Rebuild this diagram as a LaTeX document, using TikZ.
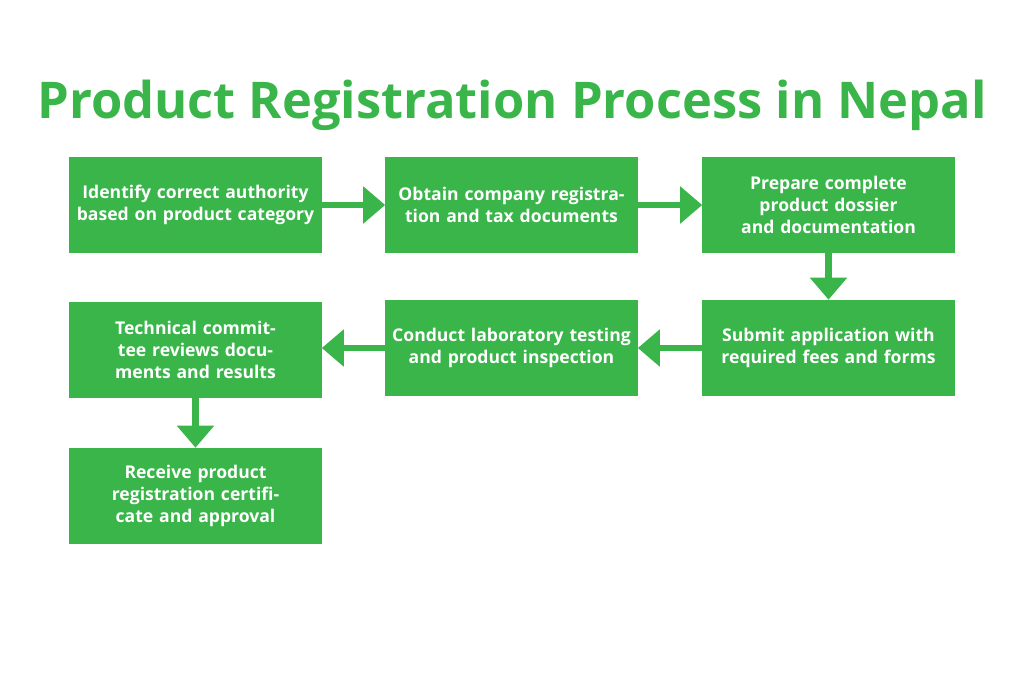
\documentclass[tikz,border=0pt]{standalone}
\usepackage{fontspec}
\setmainfont{Open Sans}
\usetikzlibrary{arrows.meta,positioning}
\definecolor{stepgreen}{RGB}{57,181,74}
\tikzset{
  stepbox/.style={fill=stepgreen,text=white,minimum width=6.3cm,minimum height=2.4cm,
    text width=6cm,align=center,font=\fontsize{12.5}{15.5}\selectfont\bfseries},
  flow/.style={draw=stepgreen,line width=1.7mm,-{Triangle[length=5.5mm,width=9mm]}}
}
\begin{document}
\begin{tikzpicture}[x=0.025cm,y=-0.025cm]
  \useasboundingbox (0,0) rectangle (1024,683);
  \node[text=stepgreen,font=\fontsize{36}{40}\selectfont\bfseries] (title) at (512,105) {Product Registration Process in Nepal};
  \node[stepbox] (authority) at (195.5,205) {Identify correct authority based on product category};
  \node[stepbox] (company) at (511.5,205) {Obtain company registration and tax documents};
  \node[stepbox] (dossier) at (828.5,205) {Prepare complete product dossier and documentation};
  \node[stepbox] (submit) at (828.5,348) {Submit application with required fees and forms};
  \node[stepbox] (testing) at (511.5,348) {Conduct laboratory testing and product inspection};
  \node[stepbox] (review) at (195.5,350) {Technical committee reviews documents and results};
  \node[stepbox] (certificate) at (195.5,496) {Receive product registration certificate and approval};
  % connectors
  \draw[flow] (authority) -- (company);
  \draw[flow] (company) -- (dossier);
  \draw[flow] (dossier) -- (submit);
  \draw[flow] (submit) -- (testing);
  \draw[flow] (testing.west) -- (testing.west -| review.east);
  \draw[flow] (review) -- (certificate);
\end{tikzpicture}
\end{document}
